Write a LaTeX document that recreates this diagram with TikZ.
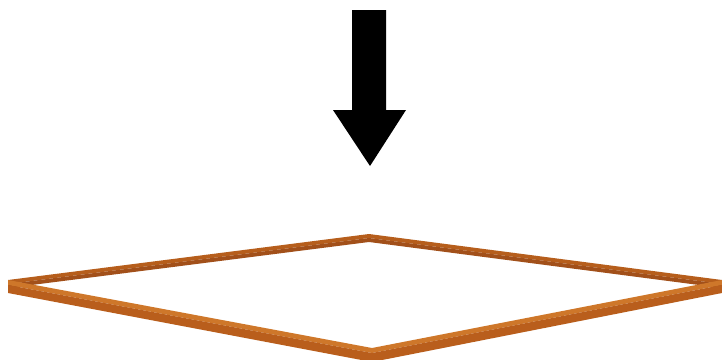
\documentclass[tikz,border=0pt]{standalone}
\usetikzlibrary{calc}
\definecolor{FrTop}{HTML}{B65E1C}
\definecolor{FrSide}{HTML}{A2501A}
\definecolor{NrTop}{HTML}{CE772A}
\definecolor{NrFront}{HTML}{B95E1C}
\tikzset{fartop/.style={fill=FrTop,draw=none}, farside/.style={fill=FrSide,draw=none}, neartop/.style={fill=NrTop,draw=none}, nearfront/.style={fill=NrFront,draw=none}, bigarrow/.style={fill=black,draw=none}}
\begin{document}
\begin{tikzpicture}[x=1pt,y=-1pt]
\useasboundingbox (0,0) rectangle (722,359);
% corners of the frame
\coordinate (L) at (8,280);\coordinate (T) at (369,234);\coordinate (R) at (722,280);\coordinate (B) at (372,348);
% far bars
\fill[fartop] (L)--(T)--($(T)+(0,4)$)--($(L)+(0,4)$)--cycle;\fill[farside] ($(L)+(0,4)$)--($(T)+(0,4)$)--($(T)+(0,8)$)--($(L)+(0,8)$)--cycle;
\fill[fartop] (R)--(T)--($(T)+(0,4)$)--($(R)+(0,4)$)--cycle;\fill[farside] ($(R)+(0,4)$)--($(T)+(0,4)$)--($(T)+(0,8)$)--($(R)+(0,8)$)--cycle;
% near bars
\fill[neartop] (L)--(B)--($(B)+(0,5)$)--($(L)+(0,5)$)--cycle;\fill[nearfront] ($(L)+(0,5)$)--($(B)+(0,5)$)--($(B)+(0,14)$)--($(L)+(0,13)$)--cycle;
\fill[neartop] (R)--(B)--($(B)+(0,5)$)--($(R)+(0,5)$)--cycle;\fill[nearfront] ($(R)+(0,5)$)--($(B)+(0,5)$)--($(B)+(0,14)$)--($(R)+(0,13)$)--cycle;
% arrow
\coordinate (tip) at (370,166);
\fill[bigarrow] (352,10)--(386,10)--(386,110)--(406,110)--(tip)--(333,110)--(352,110)--cycle;
\end{tikzpicture}
\end{document}
